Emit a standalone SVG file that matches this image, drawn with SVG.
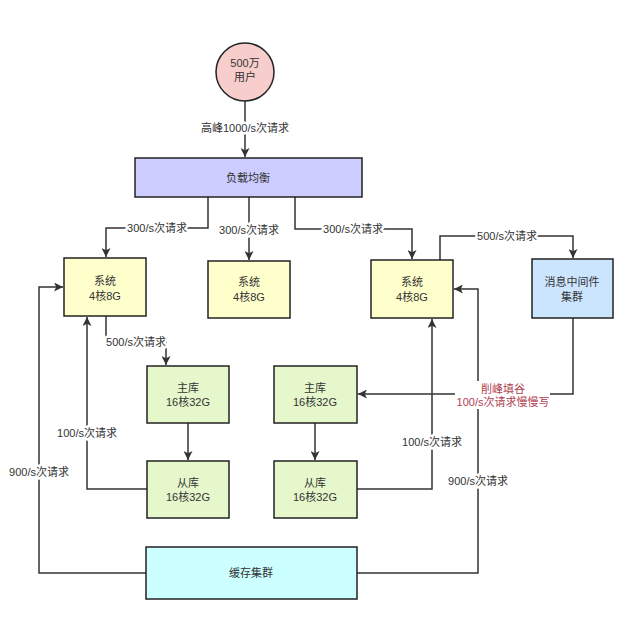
<svg xmlns="http://www.w3.org/2000/svg" width="640" height="626" viewBox="0 0 640 626">
<style>
text{font-family:"Liberation Sans","Noto Sans CJK SC",sans-serif;font-size:11px;fill:#333;text-anchor:middle;dominant-baseline:central}
.lbl{stroke:#fff;stroke-width:5px;paint-order:stroke;stroke-linejoin:round}
.red{fill:#b0414f}
.box{stroke:#222;stroke-width:1.5}
.edge{fill:none;stroke:#333;stroke-width:1.5;marker-end:url(#ah)}
</style>
<defs>
<marker id="ah" viewBox="0 0 10 10" refX="10" refY="5" markerWidth="6" markerHeight="6" markerUnits="strokeWidth" orient="auto">
<path d="M0,0 L10,5 L0,10 L2.5,5 Z" fill="#333"/>
</marker>
</defs>
<rect width="640" height="626" fill="#fff"/>
<g id="connectors">
<path class="edge" d="M245,101 V157"/>
<path class="edge" d="M208,197 V228 H106 V257"/>
<path class="edge" d="M249,197 V260"/>
<path class="edge" d="M295,197 V229 H412 V259"/>
<path class="edge" d="M440,260 V236 H573 V258"/>
<path class="edge" d="M106,316 V342 H166 V365"/>
<path class="edge" d="M188,423 V460"/>
<path class="edge" d="M315,423 V460"/>
<path class="edge" d="M147,489 H87 V317"/>
<path class="edge" d="M357,489 H432 V319"/>
<path class="edge" d="M573,318 V394 H358"/>
<path class="edge" d="M146,573 H39 V287 H63"/>
<path class="edge" d="M357,573 H478 V289 H454"/>
<text class="lbl" x="245" y="128">高峰1000/s次请求</text>
<text class="lbl" x="157" y="228">300/s次请求</text>
<text class="lbl" x="249" y="230">300/s次请求</text>
<text class="lbl" x="353" y="229">300/s次请求</text>
<text class="lbl" x="507" y="236">500/s次请求</text>
<text class="lbl" x="136" y="342">500/s次请求</text>
<text class="lbl" x="87" y="433">100/s次请求</text>
<text class="lbl" x="432" y="442">100/s次请求</text>
<text class="lbl" x="39" y="472">900/s次请求</text>
<text class="lbl" x="478" y="481">900/s次请求</text>
<rect x="455" y="381" width="95" height="28" fill="#fff"/>
<text class="red" x="503" y="389">削峰填谷</text>
<text class="red" x="503" y="402">100/s次请求慢慢写</text>
</g>
<g id="users">
<circle class="box" cx="245" cy="72" r="29" fill="#f8cecc"/>
<text x="245" y="63">500万</text>
<text x="245" y="77">用户</text>
</g>
<g id="lb">
<rect class="box" x="135" y="158" width="227" height="39" fill="#ccccff"/>
<text x="248" y="178">负载均衡</text>
</g>
<g id="sys1">
<rect class="box" x="64" y="258" width="82" height="58" fill="#ffffcc"/>
<text x="105" y="281">系统</text>
<text x="105" y="296">4核8G</text>
</g>
<g id="sys2">
<rect class="box" x="208" y="261" width="82" height="57" fill="#ffffcc"/>
<text x="249" y="282">系统</text>
<text x="249" y="297">4核8G</text>
</g>
<g id="sys3">
<rect class="box" x="371" y="260" width="82" height="58" fill="#ffffcc"/>
<text x="412" y="282">系统</text>
<text x="412" y="297">4核8G</text>
</g>
<g id="mq">
<rect class="box" x="532" y="259" width="81" height="59" fill="#cce5ff"/>
<text x="572" y="282">消息中间件</text>
<text x="572" y="297">集群</text>
</g>
<g id="master1">
<rect class="box" x="147" y="366" width="82" height="57" fill="#e6f7cc"/>
<text x="188" y="388">主库</text>
<text x="188" y="402">16核32G</text>
</g>
<g id="slave1">
<rect class="box" x="147" y="461" width="82" height="57" fill="#e6f7cc"/>
<text x="188" y="483">从库</text>
<text x="188" y="497">16核32G</text>
</g>
<g id="master2">
<rect class="box" x="274" y="366" width="83" height="57" fill="#e6f7cc"/>
<text x="315" y="388">主库</text>
<text x="315" y="402">16核32G</text>
</g>
<g id="slave2">
<rect class="box" x="274" y="461" width="83" height="57" fill="#e6f7cc"/>
<text x="315" y="483">从库</text>
<text x="315" y="497">16核32G</text>
</g>
<g id="cache">
<rect class="box" x="146" y="547" width="211" height="52" fill="#ccffff"/>
<text x="251" y="573">缓存集群</text>
</g>
</svg>
